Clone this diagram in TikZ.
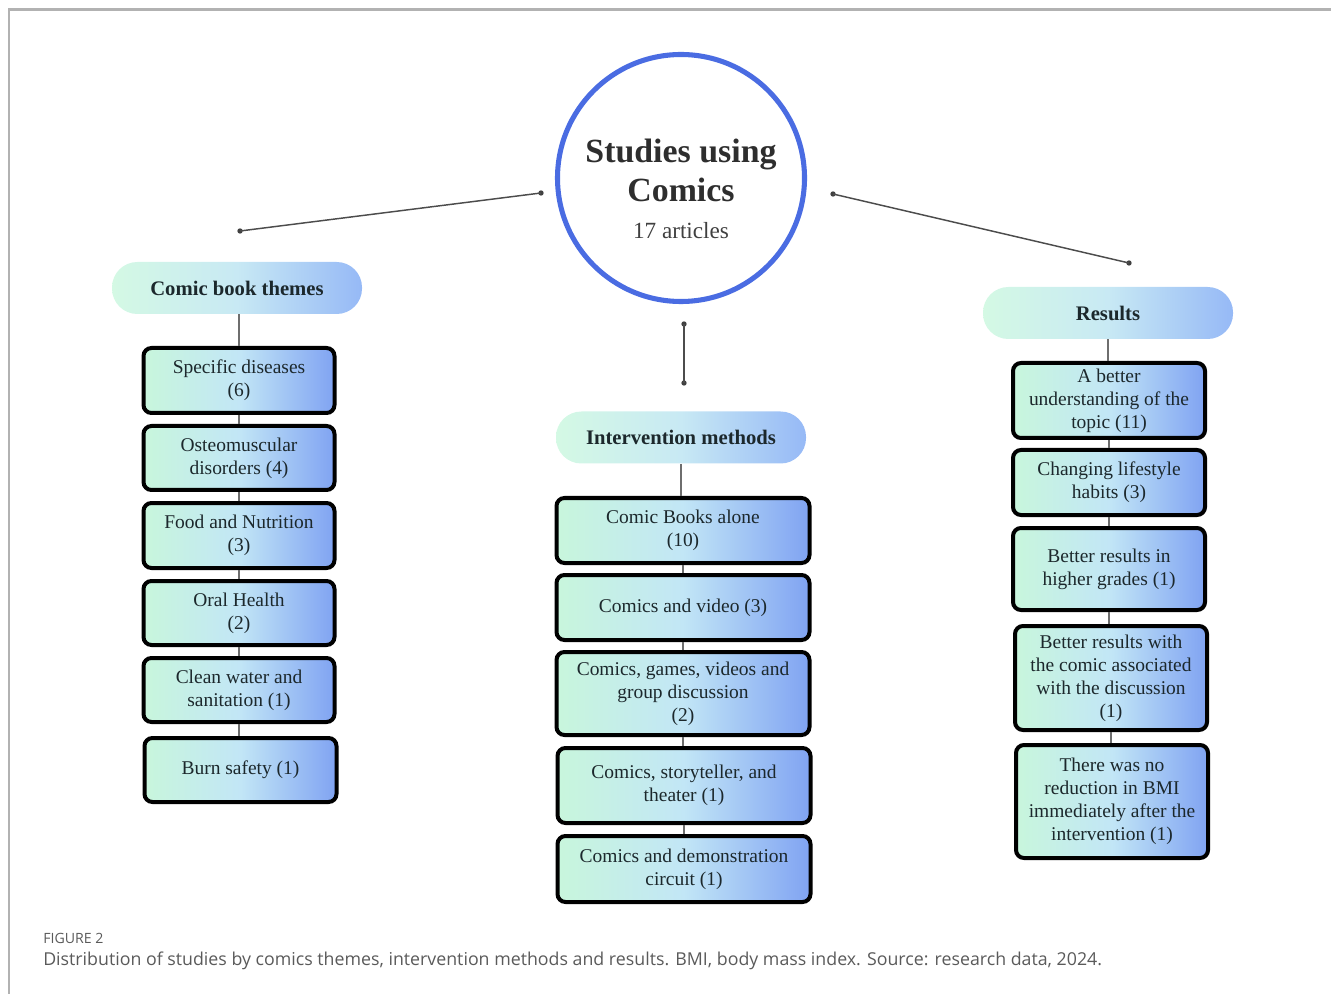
\documentclass[tikz,border=0pt]{standalone}
\usepackage{fontspec}
\setmainfont{Liberation Serif}
\newfontfamily\capfont{Open Sans}
\definecolor{circblue}{RGB}{74,108,226}
\definecolor{pillL}{RGB}{212,249,228}
\definecolor{pillM}{RGB}{200,233,244}
\definecolor{pillR}{RGB}{150,185,246}
\definecolor{boxL}{RGB}{200,246,220}
\definecolor{boxM}{RGB}{194,230,246}
\definecolor{boxR}{RGB}{128,163,242}
\definecolor{txt}{RGB}{28,40,44}
\definecolor{frame}{RGB}{178,178,178}
\definecolor{conn}{RGB}{110,110,110}
\definecolor{capgrey}{RGB}{90,90,90}
\pgfdeclarehorizontalshading{boxshade}{100bp}{color(0bp)=(boxL); color(25bp)=(boxL); color(50bp)=(boxM); color(75bp)=(boxR); color(100bp)=(boxR)}
\pgfdeclarehorizontalshading{pillshade}{100bp}{color(0bp)=(pillL); color(25bp)=(pillL); color(50bp)=(pillM); color(75bp)=(pillR); color(100bp)=(pillR)}
\tikzset{
  pill/.style={shading=pillshade, draw=none,
    rounded corners=19pt, minimum width=187.5pt, minimum height=39pt,
    font=\fontsize{15.5}{18}\selectfont\bfseries, text=txt, inner sep=0pt},
  itembox/.style={shading=boxshade, draw=black,
    line width=3pt, rounded corners=6pt, align=center, inner sep=0pt,
    font=\fontsize{14.6}{17.25}\selectfont, text=txt},
  conline/.style={draw=conn, line width=1.1pt},
  hubline/.style={draw=black!70, line width=1.1pt},
  dotnode/.style={circle, fill=black!75, inner sep=0pt, minimum size=4pt},
}
\begin{document}
\begin{tikzpicture}[x=0.75pt,y=-0.75pt]
\useasboundingbox (0,0) rectangle (1331,994);
% frame
\draw[frame, line width=1.6pt] (9,994) -- (9,9.5) -- (1331,9.5);

% central circle
\node[circle, draw=circblue, line width=3.8pt, minimum size=185.25pt, inner sep=0pt] (hub) at (681,178) {};
\node[font=\fontsize{25.4}{29.2}\selectfont\bfseries, text=black!82, align=center] (title) at (681,170) {Studies using\\Comics};
\node[font=\fontsize{17.4}{20}\selectfont, text=black!75] (count) at (681,231) {17 articles};

% dots and lines from hub
\node[dotnode] (dl1) at (240,231) {};
\node[dotnode] (dl2) at (541,193) {};
\node[dotnode] (dr1) at (833,194) {};
\node[dotnode] (dr2) at (1129,263) {};
\node[dotnode] (dm1) at (684,324) {};
\node[dotnode] (dm2) at (684,383) {};
\draw[hubline] (dl1.center) -- (dl2.center);
\draw[hubline] (dr1.center) -- (dr2.center);
\draw[hubline] (dm1.center) -- (dm2.center);

% headers
\node[pill] (p1) at (237,288) {Comic book themes};
\node[pill] (p2) at (681,437.5) {Intervention methods};
\node[pill] (p3) at (1108,313) {Results};

% left column
\node[itembox, minimum width=143.25pt, minimum height=48.75pt] (l1) at (239,380.5) {Specific diseases\\(6)};
\node[itembox, minimum width=143.25pt, minimum height=48pt] (l2) at (239,458) {Osteomuscular\\disorders (4)};
\node[itembox, minimum width=143.25pt, minimum height=48.75pt] (l3) at (239,535.5) {Food and Nutrition\\(3)};
\node[itembox, minimum width=143.25pt, minimum height=48pt] (l4) at (239,613) {Oral Health\\(2)};
\node[itembox, minimum width=143.25pt, minimum height=48pt] (l5) at (239,690) {Clean water and\\sanitation (1)};
\node[itembox, minimum width=144pt, minimum height=48pt] (l6) at (240.5,770) {Burn safety (1)};

% middle column
\node[itembox, minimum width=189.75pt, minimum height=48.75pt] (m1) at (683,530.5) {Comic Books alone\\(10)};
\node[itembox, minimum width=189.75pt, minimum height=48.75pt] (m2) at (683,607.5) {Comics and video (3)};
\node[itembox, minimum width=189.75pt, minimum height=62.25pt] (m3) at (683,693.5) {Comics, games, videos and\\group discussion\\(2)};
\node[itembox, minimum width=189.75pt, minimum height=56.25pt] (m4) at (684,785.5) {Comics, storyteller, and\\theater (1)};
\node[itembox, minimum width=189.75pt, minimum height=49.5pt] (m5) at (684,869) {Comics and demonstration\\circuit (1)};

% right column
\node[itembox, minimum width=144pt, minimum height=56.25pt] (r1) at (1109,400.5) {A better\\understanding of the\\topic (11)};
\node[itembox, minimum width=144pt, minimum height=48.75pt] (r2) at (1109,482.5) {Changing lifestyle\\habits (3)};
\node[itembox, minimum width=144pt, minimum height=61.5pt] (r3) at (1109,569) {Better results in\\higher grades (1)};
\node[itembox, minimum width=144pt, minimum height=78pt] (r4) at (1111,678) {Better results with\\the comic associated\\with the discussion\\(1)};
\node[itembox, minimum width=144pt, minimum height=84.75pt] (r5) at (1112,801.5) {There was no\\reduction in BMI\\immediately after the\\intervention (1)};

% connectors within columns
\draw[conline] (l1.north) -- (l1.north |- p1.south);
\draw[conline] (l1.south) -- (l1.south |- l2.north);
\draw[conline] (l2.south) -- (l2.south |- l3.north);
\draw[conline] (l3.south) -- (l3.south |- l4.north);
\draw[conline] (l4.south) -- (l4.south |- l5.north);
\draw[conline] (l5.south) -- (l5.south |- l6.north);
\draw[conline] (p2.south) -- (p2.south |- m1.north);
\draw[conline] (m1.south) -- (m1.south |- m2.north);
\draw[conline] (m2.south) -- (m2.south |- m3.north);
\draw[conline] (m3.south) -- (m3.south |- m4.north);
\draw[conline] (m4.south) -- (m4.south |- m5.north);
\draw[conline] (p3.south) -- (p3.south |- r1.north);
\draw[conline] (r1.south) -- (r1.south |- r2.north);
\draw[conline] (r2.south) -- (r2.south |- r3.north);
\draw[conline] (r3.south) -- (r3.south |- r4.north);
\draw[conline] (r4.south) -- (r4.south |- r5.north);

% caption
\node[anchor=west, font=\capfont\fontsize{10.6}{12}\selectfont, text=capgrey, inner sep=0pt] (figlabel) at (43,938) {FIGURE 2};
\node[anchor=west, font=\capfont\fontsize{13.33}{16}\selectfont, text=capgrey, inner sep=0pt] (caption) at (43,961) {Distribution of studies by comics themes, intervention methods and results. BMI, body mass index. Source: research data, 2024.};
\end{tikzpicture}
\end{document}
